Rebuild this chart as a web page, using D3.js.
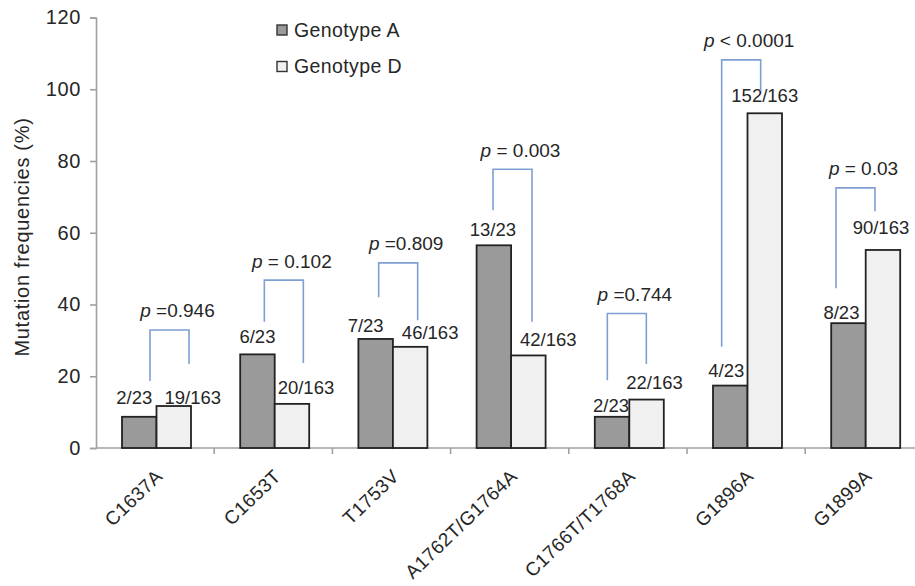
<!DOCTYPE html>
<html>
<head>
<meta charset="utf-8">
<script src="https://cdn.jsdelivr.net/npm/d3@7"></script>
<style>
  html, body { margin: 0; padding: 0; background: #ffffff; }
  svg { display: block; font-family: Arial, "Liberation Sans", sans-serif; }
</style>
</head>
<body>
<svg id="chart" width="915" height="586"></svg>
<script>
// ---------- data ----------
const categories = ["C1637A", "C1653T", "T1753V", "A1762T/G1764A", "C1766T/T1768A", "G1896A", "G1899A"];
const seriesNames = ["Genotype A", "Genotype D"];
const valuesA = [8.7, 26.1, 30.4, 56.5, 8.7, 17.4, 34.8];
const valuesD = [11.7, 12.3, 28.2, 25.8, 13.5, 93.3, 55.2];
const labelsA = ["2/23", "6/23", "7/23", "13/23", "2/23", "4/23", "8/23"];
const labelsD = ["19/163", "20/163", "46/163", "42/163", "22/163", "152/163", "90/163"];
const pSigns = ["=", "=", "=", "=", "=", "<", "="];
const pValues = ["0.946", "0.102", "0.809", "0.003", "0.744", "0.0001", "0.03"];
const pSpaced = [false, true, false, true, false, true, true];
// bracket levels in data units: top, left leg end, right leg end
const bracketTop = [32.9, 46.8, 51.6, 77.7, 37.5, 108.2, 72.5];
const bracketLeftEnd = [18.7, 35.2, 42.0, 66.3, 18.9, 28.2, 44.5];
const bracketRightEnd = [23.4, 23.7, 35.6, 35.2, 23.4, 99.5, 66.0];
const yTicks = [0, 20, 40, 60, 80, 100, 120];

// ---------- layout (pixel nudges for value labels) ----------
const nudgeA = [[-5, 13], [0, 11], [-10, 7], [-1, 9], [-1, 5], [-4, 9], [-7, 4]];
const nudgeD = [[19, 2], [14, 10], [20, 8], [20, 9], [8, 11], [0, 11], [-2, 16]];

const svg = d3.select("#chart");
const textColor = "#262626";
const axisColor = "#a0a0a0";
const fillA = "#9a9a9a";
const fillD = "#f0f0f0";
const barStroke = "#222222";
const bracketColor = "#7f9fd2";

const y = d3.scaleLinear().domain([0, 120]).range([448, 17.5]);
const x = d3.scaleBand().domain(categories).range([96, 96 + 7 * 118.2]).paddingInner(0).paddingOuter(0);
const xInner = d3.scaleBand().domain(seriesNames).range([26, 26 + 69]);
const xBracket = d3.scalePoint().domain(categories).range([150, 836]);
const bracketW = 39;

// ---------- axes ----------
const yAxis = svg.append("g").attr("transform", "translate(96,0)")
  .call(d3.axisLeft(y).tickValues(yTicks).tickSize(6).tickPadding(9).tickFormat(d3.format("d")));
yAxis.select(".domain").attr("stroke", axisColor).attr("stroke-width", 1.6);
yAxis.selectAll(".tick line").attr("stroke", axisColor).attr("stroke-width", 1.6);
yAxis.selectAll(".tick text").attr("fill", textColor).style("font-size", "20px")
  .style("letter-spacing", "0.6px")
  .style("font-family", "Arial, 'Liberation Sans', sans-serif");

// x axis line
svg.append("line").attr("x1", 96).attr("x2", 915).attr("y1", y(0)).attr("y2", y(0))
  .attr("stroke", axisColor).attr("stroke-width", 1.6);
// x ticks at band boundaries
svg.append("g").selectAll("line").data(categories.slice(1))
  .join("line")
  .attr("x1", d => x(d)).attr("x2", d => x(d))
  .attr("y1", y(0)).attr("y2", y(0) + 6)
  .attr("stroke", axisColor).attr("stroke-width", 1.6);

// x labels rotated
svg.append("g").selectAll("text").data(categories)
  .join("text")
  .attr("transform", d => `translate(${x(d) + x.bandwidth() / 2 + 4},${y(0) + 25}) rotate(-44)`)
  .attr("text-anchor", "end")
  .attr("dy", "0.35em")
  .attr("fill", textColor)
  .style("font-size", "19px")
  .style("letter-spacing", "0.4px")
  .text(d => d);

// y title
svg.append("text")
  .attr("transform", `translate(29,237) rotate(-90)`)
  .attr("text-anchor", "middle")
  .attr("fill", textColor)
  .style("font-size", "20px")
  .style("letter-spacing", "0.7px")
  .text("Mutation frequencies (%)");

// ---------- bars ----------
const rows = categories.map((c, i) => ({ c, i, a: valuesA[i], d: valuesD[i] }));
const g = svg.append("g");
g.selectAll("rect.a").data(rows).join("rect")
  .attr("class", "a")
  .attr("x", r => x(r.c) + xInner(seriesNames[0]))
  .attr("y", r => y(r.a))
  .attr("width", xInner.bandwidth())
  .attr("height", r => y(0) - y(r.a))
  .attr("fill", fillA).attr("stroke", barStroke).attr("stroke-width", 1.8);
g.selectAll("rect.d").data(rows).join("rect")
  .attr("class", "d")
  .attr("x", r => x(r.c) + xInner(seriesNames[1]))
  .attr("y", r => y(r.d))
  .attr("width", xInner.bandwidth())
  .attr("height", r => y(0) - y(r.d))
  .attr("fill", fillD).attr("stroke", barStroke).attr("stroke-width", 1.8);

// value labels
g.selectAll("text.la").data(rows).join("text")
  .attr("class", "la")
  .attr("x", r => x(r.c) + xInner(seriesNames[0]) + xInner.bandwidth() / 2 + nudgeA[r.i][0])
  .attr("y", r => y(r.a) - nudgeA[r.i][1])
  .attr("text-anchor", "middle").attr("fill", textColor).style("font-size", "18.5px")
  .text(r => labelsA[r.i]);
g.selectAll("text.ld").data(rows).join("text")
  .attr("class", "ld")
  .attr("x", r => x(r.c) + xInner(seriesNames[1]) + xInner.bandwidth() / 2 + nudgeD[r.i][0])
  .attr("y", r => y(r.d) - nudgeD[r.i][1])
  .attr("text-anchor", "middle").attr("fill", textColor).style("font-size", "18.5px")
  .text(r => labelsD[r.i]);

// ---------- p-value brackets ----------
const br = svg.append("g");
br.selectAll("path").data(rows).join("path")
  .attr("d", r => {
    const xl = xBracket(r.c), xr = xl + bracketW;
    return `M${xl},${y(bracketLeftEnd[r.i])}V${y(bracketTop[r.i])}H${xr}V${y(bracketRightEnd[r.i])}`;
  })
  .attr("fill", "none").attr("stroke", bracketColor).attr("stroke-width", 1.6);

const pt = br.selectAll("text").data(rows).join("text")
  .attr("x", r => xBracket(r.c) + bracketW / 2 + 8)
  .attr("y", r => y(bracketTop[r.i]) - 12.5)
  .attr("text-anchor", "middle").attr("fill", textColor).style("font-size", "19px");
pt.append("tspan").style("font-style", "italic").text("p");
pt.append("tspan").text(r => pSpaced[r.i] ? ` ${pSigns[r.i]} ${pValues[r.i]}` : ` ${pSigns[r.i]}${pValues[r.i]}`);

// ---------- legend ----------
const lg = svg.append("g");
const legendFills = [fillA, fillD];
lg.selectAll("rect").data(seriesNames).join("rect")
  .attr("x", 277).attr("y", (d, i) => 25 + i * 36.5)
  .attr("width", 10).attr("height", 10)
  .attr("fill", (d, i) => legendFills[i]).attr("stroke", "#333").attr("stroke-width", 1.4);
lg.selectAll("text").data(seriesNames).join("text")
  .attr("x", 294).attr("y", (d, i) => 36.5 + i * 36.5)
  .attr("fill", textColor).style("font-size", "19.5px")
  .style("letter-spacing", "0.4px")
  .text(d => d);
</script>
</body>
</html>
